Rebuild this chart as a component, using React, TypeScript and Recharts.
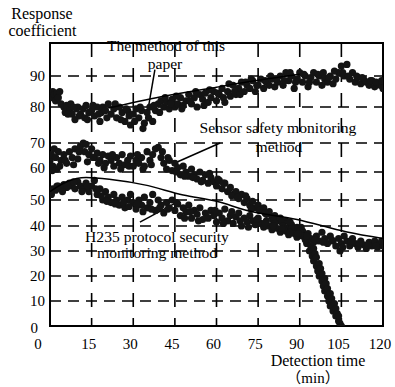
import React from 'react';
import { ScatterChart, Scatter, XAxis, YAxis, CartesianGrid, ReferenceLine, ReferenceArea } from 'recharts';

const xTicks = [0, 15, 30, 45, 60, 75, 90, 105, 120];
const yTickLabels = [0, 10, 20, 30, 40, 50, 60, 70, 80, 90];
// the printed y axis is not evenly spaced: value stops -> share of plot height (%)
const yAxisValueStops = [0, 10, 20, 30, 40, 50, 60, 70, 80, 90, 100];
const yAxisPosStops = [0, 8.83, 17.67, 26.5, 35.34, 44.52, 54.42, 64.66, 77.39, 88.34, 100];

const paperPoints: number[][] = [
  [0, 84], [0.5, 83], [1, 85], [1.5, 84], [2, 82], [2.5, 84.5], [3, 83], [4, 81], [5, 80], [5.5, 78.5],
  [6, 80.5], [7, 79], [7.5, 81], [8, 78], [9, 76.5], [9.5, 79.5], [10, 80], [11, 78], [12, 79.5], [12.5, 77],
  [13, 80.5], [14, 78.5], [15, 79], [16, 77.5], [17, 80], [18, 76], [18.5, 78.5], [19, 80], [20, 79], [21, 81],
  [22, 78], [23, 79.5], [24, 77], [25, 80], [26, 78.5], [27, 76], [28, 79], [28.5, 77.5], [29, 75], [30, 78],
  [31, 79.5], [32, 77], [33, 79], [34, 75.5], [35, 78.5], [36, 80], [37, 76], [38, 79], [39, 81], [40, 82],
  [41, 80], [42, 81.5], [43, 79.5], [44, 82.5], [45, 80], [46, 81], [47, 83], [48, 80.5], [49, 82], [50, 84],
  [51, 81], [52, 83], [53, 80], [54, 84], [55, 82.5], [56, 84.5], [57, 81.5], [58, 83], [59, 85], [60, 82],
  [61, 84], [62, 86], [63, 81.5], [64, 85], [65, 83.5], [66, 87], [67, 84], [68, 86], [69, 88], [70, 85],
  [71, 87], [72, 86], [73, 88.5], [74, 85], [75, 87], [76, 89], [77, 86], [78, 88], [79, 87], [80, 89],
  [81, 86.5], [82, 88], [83, 90], [84, 87], [85, 91], [86, 88.5], [87, 90], [88, 86], [89, 89], [90, 91],
  [91, 88], [92, 90], [93, 86.5], [94, 89.5], [95, 91], [96, 88], [97, 90], [98, 87], [99, 89], [100, 88],
  [101, 90], [102, 87.5], [103, 89], [104, 91], [105, 93], [106, 90], [107, 93.5], [108, 89], [109, 91], [110, 88],
  [111, 89.5], [112, 87.5], [113, 89], [114, 88], [115, 87], [116, 88.5], [117, 86.5], [118, 87.5], [119, 87], [120, 86],
  [3.5, 85], [6.5, 78], [8.5, 80], [10.5, 77.5], [13.5, 76.5], [15.5, 80.5], [17.5, 78], [20.5, 77], [23.5, 81], [25.5, 76.5],
  [27.5, 79.5], [30.5, 76], [32.5, 80], [33.5, 74], [35.5, 77], [37.5, 80.5], [39.5, 78.5], [41.5, 83], [43.5, 81], [45.5, 83.5],
  [47.5, 79.5], [50.5, 82], [52.5, 85], [55.5, 80.5], [57.5, 85.5], [60.5, 84.5], [62.5, 83], [64.5, 87.5], [66.5, 85], [68.5, 84],
  [70.5, 88], [72.5, 89], [74.5, 87], [77.5, 88.5], [79.5, 90], [81.5, 89], [84.5, 88.5], [86.5, 91], [88.5, 88], [91.5, 90.5],
  [93.5, 88], [96.5, 90.5], [98.5, 91], [100.5, 89.5], [102.5, 91.5], [105.5, 91], [107.5, 90], [110.5, 90], [112.5, 89.5], [115.5, 88.5],
  [117.5, 88], [119.5, 88.5],
];

const sensorPoints: number[][] = [
  [0, 64], [0.5, 66], [1, 62], [1.5, 68], [2, 65], [2.5, 61], [3, 67], [4, 64], [5, 66], [6, 63],
  [7, 67], [8, 65], [9, 68], [10, 64.5], [11, 69], [12, 70], [12.5, 67], [13, 69.5], [14, 66], [15, 68],
  [16, 65], [17, 66.5], [18, 64], [19, 66], [20, 63], [21, 65.5], [22, 64], [23, 62], [24, 65], [25, 63],
  [26, 66], [27, 62.5], [28, 64], [29, 65.5], [30, 62], [31, 64], [32, 63], [33, 65], [34, 62], [35, 67],
  [36, 64], [37, 66], [38, 68], [39, 68.5], [40, 65], [41, 63], [42, 61], [43, 64], [44, 60.5], [45, 63],
  [46, 61.5], [47, 59], [48, 62], [49, 60], [50, 58.5], [51, 61], [52, 59], [53, 57.5], [54, 60], [55, 57],
  [56, 59], [57, 56], [58, 58], [59, 56.5], [60, 55], [61, 57], [62, 54], [63, 56], [64, 53], [65, 54.5],
  [66, 52], [67, 53], [68, 50.5], [69, 52], [70, 49], [71, 50.5], [72, 48], [73, 49.5], [74, 47], [75, 48],
  [76, 46], [77, 47], [78, 44.5], [79, 45.5], [80, 43.5], [81, 44], [82, 42], [83, 43], [84, 41], [85, 42],
  [86, 39.5], [87, 40.5], [88, 38.5], [89, 39.5], [90, 37.5], [91, 38],
  [0.8, 60.5], [3.5, 62], [5.5, 64], [8.5, 62.5], [10.5, 67], [13.5, 63.5], [15.5, 65], [17.5, 63], [19.5, 61.5], [22.5, 66],
  [25.5, 61], [28.5, 62], [31.5, 66], [33.5, 61], [36.5, 62.5], [40.5, 67], [42.5, 65], [45.5, 60], [48.5, 58.5], [51.5, 58],
  [54.5, 56.5], [57.5, 59.5], [60.5, 57.5], [62.5, 56], [65.5, 51.5], [67.5, 51], [70.5, 51.5], [72.5, 46.5], [75.5, 46], [77.5, 45],
  [80.5, 42], [83.5, 41.5], [86.5, 41.5], [88.5, 37], [90.5, 39.5], [91.5, 36],
  [92, 36], [92.5, 33], [93, 35], [93.5, 30], [94, 32], [94.5, 28], [95, 31], [95, 26], [95.5, 29], [96, 24],
  [96, 27.5], [96.5, 22], [97, 25], [97, 20], [97.5, 23], [98, 18], [98, 21], [98.5, 16], [99, 19], [99, 14],
  [99.5, 17], [100, 12], [100, 15], [100.5, 10], [101, 13], [101, 8], [101.5, 11], [102, 6], [102.5, 9], [103, 4],
  [103, 7], [103.5, 5], [104, 2], [104, 4], [104.5, 1], [105, 0],
];

const h235Points: number[][] = [
  [0, 53], [1, 54], [2, 53.5], [3, 55], [4, 54], [5, 55.5], [6, 54.5], [7, 56], [8, 55], [9, 54],
  [10, 56.5], [11, 55], [12, 54], [13, 56], [14, 53], [15, 55], [16, 57], [17, 52], [18, 54], [19, 50],
  [20, 53], [21, 51], [22, 49], [23, 52], [24, 50], [25, 48], [26, 51], [27, 47], [28, 50], [29, 52],
  [30, 49], [31, 46.5], [32, 50], [33, 48], [34, 51], [35, 47], [36, 49], [37, 52], [38, 46], [39, 50],
  [40, 48], [41, 45], [42, 49], [43, 47], [44, 50], [45, 46], [46, 48.5], [47, 44], [48, 47], [49, 45.5],
  [50, 48], [51, 43], [52, 46], [53, 44.5], [54, 47], [55, 42.5], [56, 45], [57, 43], [58, 46], [59, 44],
  [60, 41.5], [61, 45], [62, 43], [63, 46.5], [64, 42], [65, 44], [66, 41], [67, 43.5], [68, 45], [69, 40],
  [70, 43], [71, 41.5], [72, 44], [73, 42], [74, 40.5], [75, 43], [76, 41], [77, 39.5], [78, 42], [79, 40],
  [80, 38.5], [81, 41], [82, 39], [83, 37.5], [84, 40], [85, 38], [86, 36.5], [87, 39], [88, 37], [89, 35.5],
  [90, 38], [91, 36], [92, 34.5], [93, 37], [94, 35], [95, 33.5], [96, 36], [97, 34], [98, 37.5], [99, 35],
  [100, 33], [101, 36], [102, 34], [103, 32], [104, 35], [104.5, 30], [105, 33], [106, 36], [107, 34], [108, 32],
  [109, 35], [110, 33], [111, 31.5], [112, 34], [113, 32.5], [114, 31], [115, 33.5], [116, 32], [117, 34], [118, 31.5],
  [119, 33], [120, 32],
  [0.5, 52], [2.5, 55], [4.5, 53], [6.5, 55], [8.5, 56.5], [11.5, 53], [13.5, 55], [16.5, 54], [18.5, 51.5], [20.5, 49.5],
  [23.5, 48.5], [26.5, 49], [28.5, 47.5], [31.5, 48.5], [33.5, 45.5], [36.5, 46.5], [39.5, 47], [42.5, 46.5], [45.5, 49], [48.5, 43],
  [50.5, 45.5], [53.5, 42], [56.5, 43.5], [59.5, 46], [62.5, 41], [65.5, 45.5], [68.5, 42], [71.5, 39.5], [74.5, 42.5], [77.5, 41],
  [80.5, 40], [83.5, 39], [86.5, 37.5], [89.5, 37], [92.5, 36], [95.5, 34.5], [98.5, 33.5], [101.5, 34.5], [105.5, 31.5], [108.5, 34],
  [111.5, 33], [114.5, 32.5], [117.5, 32], [119.5, 34],
];

const paperTrend: number[][] = [[21, 79.7], [40, 83.3], [60, 86.4], [75, 88.6], [90, 90.5]];
const h235Trend: number[][] = [
  [0, 53], [6, 56.5], [13, 58], [22, 57.3], [34, 55.4], [48, 51.8], [60, 49.5], [71, 46], [89, 42.5], [107, 37.6], [120, 35],
];
const paperPointer: number[][] = [[37.8, 91.9], [35.3, 79.2]];
const sensorPointer: number[][] = [[45, 63.1], [61.3, 70]];
const h235Pointer: number[][] = [[32.4, 41.5], [46, 49.3]];

const toAxis = (v: number) => {
  for (let i = 0; i < yAxisValueStops.length - 1; i++) {
    const a = yAxisValueStops[i];
    const b = yAxisValueStops[i + 1];
    if (v <= b || i === yAxisValueStops.length - 2) {
      const t = (v - a) / (b - a);
      return yAxisPosStops[i] + t * (yAxisPosStops[i + 1] - yAxisPosStops[i]);
    }
  }
  return v;
};

const toRows = (pts: number[][]) => pts.map(([x, y]) => ({ x, y: toAxis(y) }));

const FONT = '"Liberation Serif", "Times New Roman", serif';
const FONT_CJK = '"Liberation Serif", "Noto Sans CJK SC", serif';

const Dot = (props: any) => <circle cx={props.cx} cy={props.cy} r={3.6} fill="#141414" />;
const NoDot = () => <g />;

const XTick = (props: any) => {
  const { x, y, payload } = props;
  const dx = payload.value === 0 ? -12 : -3;
  return (
    <text x={x + dx} y={y} dy="0.71em" textAnchor="middle" fontFamily={FONT} fontSize={15} fill="#000">
      {payload.value}
    </text>
  );
};

const YTick = (props: any) => {
  const { x, y, payload } = props;
  let best = 0;
  yTickLabels.forEach((l, i) => {
    if (Math.abs(toAxis(l) - payload.value) < Math.abs(toAxis(yTickLabels[best]) - payload.value)) best = i;
  });
  const label = yTickLabels[best];
  const dx = label === 0 ? -7 : 0;
  const dy = label === 60 ? -4 : label === 0 ? 2 : 0;
  return (
    <text x={x + dx} y={y + dy} dy="0.355em" textAnchor="end" fontFamily={FONT} fontSize={15} fill="#000">
      {label}
    </text>
  );
};

export default function App() {
  const yTicks = yTickLabels.map(toAxis);
  return (
    <div style={{ position: 'absolute', left: 0, top: 0, width: 395, height: 387, background: '#fff' }}>
      <ScatterChart width={395} height={387} margin={{ top: 43, right: 12, bottom: 31, left: 10 }}>
        <CartesianGrid horizontal={false} stroke="#000" strokeWidth={1.6} strokeDasharray="14 11" />
        <CartesianGrid vertical={false} stroke="#000" strokeWidth={1.6} strokeDasharray="11 7" />
        <XAxis
          type="number"
          dataKey="x"
          domain={[0, 120]}
          ticks={xTicks}
          allowDataOverflow
          height={30}
          tickSize={0}
          tickMargin={12}
          tick={<XTick />}
          axisLine={{ stroke: '#000', strokeWidth: 2 }}
          tickLine={false}
        />
        <YAxis
          type="number"
          dataKey="y"
          domain={[0, 100]}
          ticks={yTicks}
          allowDataOverflow
          width={40}
          tickSize={0}
          tickMargin={5}
          tick={<YTick />}
          axisLine={{ stroke: '#000', strokeWidth: 2 }}
          tickLine={false}
        />
        <ReferenceArea x1={0} x2={120} y1={0} y2={100} fill="none" stroke="#000" strokeWidth={2} ifOverflow="visible" />
        <Scatter data={toRows(paperPoints)} shape={Dot} isAnimationActive={false} />
        <Scatter data={toRows(sensorPoints)} shape={Dot} isAnimationActive={false} />
        <Scatter data={toRows(h235Points)} shape={Dot} isAnimationActive={false} />
        <Scatter
          data={toRows(paperTrend)}
          shape={NoDot}
          line={{ stroke: '#000', strokeWidth: 1.5 }}
          lineJointType="monotoneX"
          isAnimationActive={false}
        />
        <Scatter
          data={toRows(h235Trend)}
          shape={NoDot}
          line={{ stroke: '#000', strokeWidth: 1.5 }}
          lineJointType="monotoneX"
          isAnimationActive={false}
        />
        <ReferenceLine segment={toRows(paperPointer)} stroke="#000" strokeWidth={1.5} ifOverflow="visible" />
        <ReferenceLine segment={toRows(sensorPointer)} stroke="#000" strokeWidth={1.5} ifOverflow="visible" />
        <ReferenceLine segment={toRows(h235Pointer)} stroke="#000" strokeWidth={1.5} ifOverflow="visible" />
      </ScatterChart>
      <svg width={395} height={387} style={{ position: 'absolute', left: 0, top: 0, pointerEvents: 'none' }}>
        <g fontSize={16}>
          <text x={42} y={19} textAnchor="middle" fontFamily={FONT} fill="#000">Response</text>
          <text x={42.5} y={36} textAnchor="middle" fontFamily={FONT} fill="#000">coefficient</text>
          <text x={318} y={366} textAnchor="middle" fontFamily={FONT} fill="#000">Detection time</text>
          <text x={313} y={383} textAnchor="middle" fontFamily={FONT_CJK} fontSize={15} fill="#000">（min）</text>
        </g>
        <g fontSize={15.6}>
          <text x={166} y={51} textAnchor="middle" fontFamily={FONT} fill="#000">The method of this</text>
          <text x={165} y={69} textAnchor="middle" fontFamily={FONT} fill="#000">paper</text>
          <text x={278} y={133} textAnchor="middle" fontFamily={FONT} fill="#000">Sensor safety monitoring</text>
          <text x={279} y={152} textAnchor="middle" fontFamily={FONT} fill="#000">method</text>
          <text x={157} y={242} textAnchor="middle" fontFamily={FONT} fill="#000">H235 protocol security</text>
          <text x={157} y={258} textAnchor="middle" fontFamily={FONT} fill="#000">monitoring method</text>
        </g>
      </svg>
    </div>
  );
}
